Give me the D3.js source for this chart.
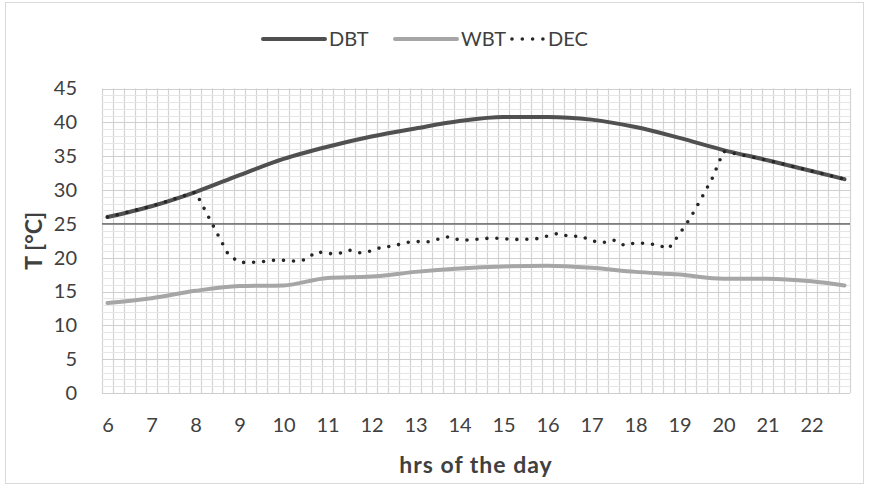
<!DOCTYPE html>
<html><head><meta charset="utf-8">
<script src="https://cdn.jsdelivr.net/npm/d3@7"></script>
<style>
body{margin:0;background:#fff;}
text{font-family:Lato,"Open Sans",sans-serif;fill:#404040;}
</style></head>
<body><svg id="c" width="869" height="488"></svg>
<script>
// ---- data ----
const hourTicks = [6,7,8,9,10,11,12,13,14,15,16,17,18,19,20,21,22];
const yTicks = [0,5,10,15,20,25,30,35,40,45];
const hours = [6,7,8,9,10,11,12,13,14,15,16,17,18,19,20,21,22,22.75];
const dbt = [26.0,27.6,29.7,32.2,34.6,36.4,37.9,39.1,40.2,40.8,40.8,40.4,39.3,37.7,35.9,34.4,32.8,31.6];
const wbt = [13.3,14.0,15.1,15.8,15.9,17.0,17.2,17.9,18.4,18.7,18.8,18.5,17.9,17.5,16.9,16.9,16.5,15.9];
const decTimes = [6,7,8,8.25,8.5,8.75,9,9.25,9.5,9.75,10,10.25,10.5,10.75,11,11.25,11.5,11.75,
  12,12.25,12.5,12.75,13,13.25,13.5,13.75,14,14.25,14.5,14.75,15,15.25,15.5,15.75,
  16,16.25,16.5,16.75,17,17.25,17.5,17.75,18,18.25,18.5,18.75,19,19.25,19.5,19.75,20,21,22,22.75];
const dec = [26.0,27.6,29.7,26.6,23.5,20.4,19.3,19.3,19.4,19.6,19.6,19.5,19.7,20.9,20.6,20.6,21.1,20.7,
  21.0,21.6,21.7,22.2,22.4,22.3,22.7,23.1,22.6,22.6,22.8,22.9,22.8,22.7,22.7,22.8,
  23.2,23.6,23.1,23.2,22.5,22.2,22.6,21.8,22.2,22.1,21.9,21.3,23.5,25.9,28.8,31.8,35.7,34.4,32.8,31.6];
const thresholdValue = 25;
const seriesNames = ["DBT","WBT","DEC"];

// ---- layout ----
const svg = d3.select("#c");
const L=102, R=850, T=88.5, B=393;
const x = d3.scaleLinear().domain([5.875,22.875]).range([L,R]);
const y = d3.scaleLinear().domain([0,45]).range([B,T]);

// outer border
svg.append("rect").attr("x",5.5).attr("y",2.5).attr("width",858).attr("height",481)
  .attr("fill","#fff").attr("stroke","#d9d9d9").attr("stroke-width",1);

// grid
const g = svg.append("g");
const vLines = d3.range(0,69).map(i=>x.domain()[0]+i*0.25);
g.selectAll(".vg").data(vLines).join("line")
  .attr("x1",d=>Math.round(x(d))+0.5).attr("x2",d=>Math.round(x(d))+0.5)
  .attr("y1",T).attr("y2",B).attr("stroke","#d3d3d3").attr("stroke-width",1.2);
const hMinor = d3.range(0,46).filter(v=>v%5!==0);
g.selectAll(".hm").data(hMinor).join("line")
  .attr("x1",L).attr("x2",R).attr("y1",d=>Math.round(y(d))+0.5).attr("y2",d=>Math.round(y(d))+0.5)
  .attr("stroke","#e6e6e6").attr("stroke-width",1);
g.selectAll(".hM").data(yTicks).join("line")
  .attr("x1",L).attr("x2",R).attr("y1",d=>Math.round(y(d))+0.5).attr("y2",d=>Math.round(y(d))+0.5)
  .attr("stroke","#cfcfcf").attr("stroke-width",1.2);

// threshold line
svg.append("line").attr("x1",L).attr("x2",R)
  .attr("y1",y(thresholdValue)).attr("y2",y(thresholdValue))
  .attr("stroke","#555").attr("stroke-width",1.2);

// axes
const xa = svg.append("g").attr("transform",`translate(0,${B})`)
  .call(d3.axisBottom(x).tickValues(hourTicks).tickSize(0).tickPadding(25).tickFormat(d3.format("d")));
xa.select(".domain").remove();
xa.selectAll("text").attr("font-size",20).attr("fill","#404040").style("font-family","Lato");
const ya = svg.append("g").attr("transform",`translate(77,0)`)
  .call(d3.axisLeft(y).tickValues(yTicks).tickSize(0).tickPadding(0));
ya.select(".domain").remove();
ya.selectAll("text").attr("font-size",20).attr("fill","#404040").style("font-family","Lato");

// axis titles
svg.append("text").attr("x",(L+R)/2).attr("y",473).attr("text-anchor","middle")
  .attr("font-size",23).attr("font-weight","bold").attr("letter-spacing",1).text("hrs of the day");
svg.append("text").attr("transform",`translate(42,${(T+B)/2}) rotate(-90)`).attr("text-anchor","middle")
  .attr("font-size",23).attr("font-weight","bold").text("T [°C]");

// lines
const lineSmooth = d3.line().x(d=>x(d[0])).y(d=>y(d[1])).curve(d3.curveMonotoneX);
const lineLin = d3.line().x(d=>x(d[0])).y(d=>y(d[1]));
svg.append("path").attr("d",lineSmooth(d3.zip(hours,wbt))).attr("fill","none")
  .attr("stroke","#a6a6a6").attr("stroke-width",4).attr("stroke-linecap","round").attr("stroke-linejoin","round");
svg.append("path").attr("d",lineSmooth(d3.zip(hours,dbt))).attr("fill","none")
  .attr("stroke","#505050").attr("stroke-width",4).attr("stroke-linecap","round").attr("stroke-linejoin","round");
svg.append("path").attr("d",lineLin(d3.zip(decTimes,dec))).attr("fill","none")
  .attr("stroke","#262626").attr("stroke-width",3.6).attr("stroke-linecap","round")
  .attr("stroke-dasharray","0 10");

// legend
const leg = svg.append("g");
const items = [
  {name:seriesNames[0], x0:263, x1:325, tx:329, color:"#505050", dash:null, w:4},
  {name:seriesNames[1], x0:395, x1:457, tx:461, color:"#a6a6a6", dash:null, w:4},
  {name:seriesNames[2], x0:512, x1:543, tx:548, color:"#262626", dash:"0 10.3", w:3.6}
];
items.forEach(it=>{
  const ln = leg.append("line").attr("x1",it.x0).attr("x2",it.x1).attr("y1",39).attr("y2",39)
    .attr("stroke",it.color).attr("stroke-width",it.w).attr("stroke-linecap","round");
  if(it.dash) ln.attr("stroke-dasharray",it.dash);
  leg.append("text").attr("x",it.tx).attr("y",46).attr("font-size",20).text(it.name);
});
</script></body></html>
